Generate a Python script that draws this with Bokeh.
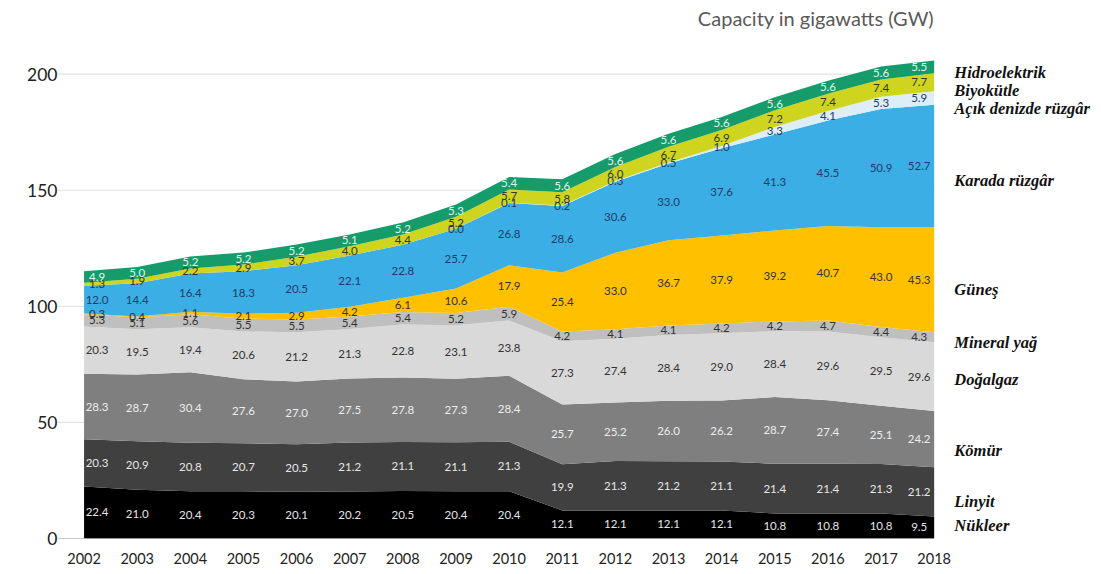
from bokeh.plotting import figure
from bokeh.models import ColumnDataSource, FixedTicker, Range1d
from bokeh.core.properties import value
from bokeh.embed import file_html
from bokeh.resources import INLINE

# ---------------- data ----------------
years = list(range(2002, 2019))
nukleer = [22.4, 21.0, 20.4, 20.3, 20.1, 20.2, 20.5, 20.4, 20.4, 12.1, 12.1, 12.1, 12.1, 10.8, 10.8, 10.8, 9.5]
linyit = [20.3, 20.9, 20.8, 20.7, 20.5, 21.2, 21.1, 21.1, 21.3, 19.9, 21.3, 21.2, 21.1, 21.4, 21.4, 21.3, 21.2]
komur = [28.3, 28.7, 30.4, 27.6, 27.0, 27.5, 27.8, 27.3, 28.4, 25.7, 25.2, 26.0, 26.2, 28.7, 27.4, 25.1, 24.2]
dogalgaz = [20.3, 19.5, 19.4, 20.6, 21.2, 21.3, 22.8, 23.1, 23.8, 27.3, 27.4, 28.4, 29.0, 28.4, 29.6, 29.5, 29.6]
mineral = [5.3, 5.1, 5.6, 5.5, 5.5, 5.4, 5.4, 5.2, 5.9, 4.2, 4.1, 4.1, 4.2, 4.2, 4.7, 4.4, 4.3]
gunes = [0.3, 0.4, 1.1, 2.1, 2.9, 4.2, 6.1, 10.6, 17.9, 25.4, 33.0, 36.7, 37.9, 39.2, 40.7, 43.0, 45.3]
karada = [12.0, 14.4, 16.4, 18.3, 20.5, 22.1, 22.8, 25.7, 26.8, 28.6, 30.6, 33.0, 37.6, 41.3, 45.5, 50.9, 52.7]
acik = [0.0, 0.0, 0.0, 0.0, 0.0, 0.0, 0.0, 0.0, 0.1, 0.2, 0.3, 0.5, 1.0, 3.3, 4.1, 5.3, 5.9]
acik_labels_from = 2009
biyokutle = [1.3, 1.9, 2.2, 2.9, 3.7, 4.0, 4.4, 5.2, 5.7, 5.8, 6.0, 6.7, 6.9, 7.2, 7.4, 7.4, 7.7]
hidro = [4.9, 5.0, 5.2, 5.2, 5.2, 5.1, 5.2, 5.3, 5.4, 5.6, 5.6, 5.6, 5.6, 5.6, 5.6, 5.6, 5.5]

series_keys = ["nukleer", "linyit", "komur", "dogalgaz", "mineral", "gunes", "karada", "acik", "biyokutle", "hidro"]
series_vals = [nukleer, linyit, komur, dogalgaz, mineral, gunes, karada, acik, biyokutle, hidro]
series_names = ["Nükleer", "Linyit", "Kömür", "Doğalgaz", "Mineral yağ", "Güneş",
                "Karada rüzgâr", "Açık denizde rüzgâr", "Biyokütle", "Hidroelektrik"]
y_ticks = [0, 50, 100, 150, 200]
title_text = "Capacity in gigawatts (GW)"

# ---------------- styles ----------------
fill_colors = ["#000000", "#404040", "#7f7f7f", "#d9d9d9", "#bfbfbf", "#ffc000",
               "#3caee6", "#ddeef9", "#cfd51e", "#169b6b"]
label_colors = ["#e6e6e6", "#e6e6e6", "#ededed", "#333333", "#333333", "#333333",
                "#1f3b66", "#1f3b66", "#333333", "#e3f4ec"]
# right-hand legend label positions (in value units)
legend_y = [5.6, 15.9, 37.8, 68.7, 84.5, 107.3, 154.1, 185.4, 193.1, 200.9]

src = ColumnDataSource(dict(year=years, **{k: v for k, v in zip(series_keys, series_vals)}))

p = figure(width=1092, height=566, output_backend="svg", toolbar_location=None,
           x_range=Range1d(2001.5, 2020.98), y_range=Range1d(0, 228.3),
           min_border_left=57, min_border_right=0, min_border_top=8, min_border_bottom=26)
p.outline_line_color = None
p.xgrid.visible = False
p.ygrid.visible = False

# grid lines
p.segment(x0=[2001.5] * len(y_ticks), x1=[2018] * len(y_ticks), y0=y_ticks, y1=y_ticks,
          line_color=["#9a9a9a"] + ["#e3e3e3"] * (len(y_ticks) - 1), line_width=1.2)

p.varea_stack(stackers=series_keys, x="year", source=src, color=fill_colors)

# value labels
lx, ly, lt, lc, lo = [], [], [], [], []
for i, vals in enumerate(series_vals):
    for j, yr in enumerate(years):
        if series_keys[i] == "acik" and yr < acik_labels_from:
            continue
        base = sum(series_vals[k][j] for k in range(i))
        lx.append(yr)
        ly.append(base + vals[j] / 2.0)
        lt.append(f"{vals[j]:.1f}")
        lc.append(label_colors[i])
        lo.append(13 if yr == years[0] else (-15 if yr == years[-1] else 0))
lsrc = ColumnDataSource(dict(x=lx, y=ly, t=lt, c=lc, o=lo))
p.text(x="x", y="y", text="t", text_color="c", x_offset="o", source=lsrc,
       text_align="center", text_baseline="middle", text_font=value("Lato"),
       text_font_size="11.5px")

# series labels at right
p.text(x=[2018.38] * len(series_names), y=legend_y, text=series_names,
       text_align="left", text_baseline="middle", text_font=value("Liberation Serif"),
       text_font_style="bold italic", text_font_size="16.5px", text_color="#111111")

# title
p.text(x=[2018], y=[224.0], text=[title_text], text_align="right", text_baseline="middle",
       text_font=value("Lato"), text_font_size="20px", text_color="#595959")

# axes
p.xaxis.ticker = FixedTicker(ticks=years)
p.yaxis.ticker = FixedTicker(ticks=y_ticks)
for ax in (p.xaxis, p.yaxis):
    ax.axis_line_color = None
    ax.major_tick_line_color = None
    ax.minor_tick_line_color = None
    ax.major_label_text_font = "Lato"
    ax.major_label_text_color = "#222222"
p.xaxis.major_label_text_font_size = "14.5px"
p.yaxis.major_label_text_font_size = "17.5px"
p.xaxis.major_label_standoff = 8
p.yaxis.major_label_standoff = -6

open("out.html", "w").write(file_html(p, INLINE))
